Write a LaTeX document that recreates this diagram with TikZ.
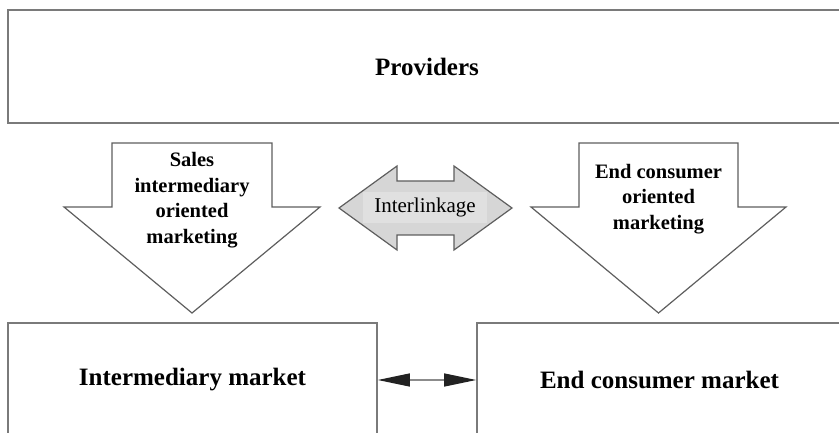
\documentclass[tikz,border=0pt]{standalone}
\usepackage{fontspec}
\setmainfont{Liberation Serif}
\usetikzlibrary{arrows.meta}
\definecolor{framegray}{HTML}{7A7A7A}
\definecolor{outlinegray}{HTML}{5E5E5E}
\definecolor{linkfill}{HTML}{D6D6D6}
\definecolor{linklabel}{HTML}{E0E0E0}
\definecolor{tipdark}{HTML}{222222}
\definecolor{shaftgray}{HTML}{8C8C8C}
\tikzset{bigtip/.tip={Triangle[length=32pt, width=13pt, color=tipdark, fill=tipdark]}}
\begin{document}
\begin{tikzpicture}[x=1pt,y=-1pt,
  market/.style={draw=framegray, line width=1.6pt, fill=white, inner sep=0pt,
    font=\fontsize{25}{30}\selectfont\bfseries},
  blockarrow/.style={draw=outlinegray, line width=1.2pt, fill=white, line join=miter},
  linkarrow/.style={draw=outlinegray, line width=1.2pt, fill=linkfill, line join=miter},
  arrowtext/.style={align=center, inner sep=0pt,
    font=\fontsize{20.5}{25.5}\selectfont\bfseries},
  linktext/.style={fill=linklabel, inner sep=0pt, minimum width=124pt, minimum height=31pt,
    font=\fontsize{21}{25}\selectfont}
]
\useasboundingbox (0,0) rectangle (839,433);
\clip (0,0) rectangle (839,433);

% top and bottom boxes
\node[market, minimum width=838pt, minimum height=113pt] (prov) at (427,66.5) {Providers};
\node[market, minimum width=369pt, minimum height=114pt] (imkt) at (192.5,380) {Intermediary market};
\node[market, minimum width=365pt, minimum height=114pt] (ecm) at (659.5,380) {End consumer market};

% downward block arrows
\draw[blockarrow] (112,143) -- (272,143) -- (272,207) -- (320,207) -- (192,313)
  -- (64,207) -- (112,207) -- cycle;
\draw[blockarrow] (579,143) -- (738,143) -- (738,207) -- (786,207) -- (658.5,313)
  -- (531,207) -- (579,207) -- cycle;
\node[arrowtext] (sim) at (192,200) {Sales\\intermediary\\oriented\\marketing};
\node[arrowtext] (ecom) at (658.5,199) {End consumer\\oriented\\marketing};

% interlinkage double arrow
\draw[linkarrow] (339,208) -- (397,166) -- (397,181) -- (454,181) -- (454,166)
  -- (512,208) -- (454,250) -- (454,235) -- (397,235) -- (397,250) -- cycle;
\node[linktext] (link) at (425,207.5) {Interlinkage};

% connector between the two markets
\draw[shaftgray, line width=1.2pt, bigtip-bigtip] (imkt.east) -- (ecm.west);
\end{tikzpicture}
\end{document}
